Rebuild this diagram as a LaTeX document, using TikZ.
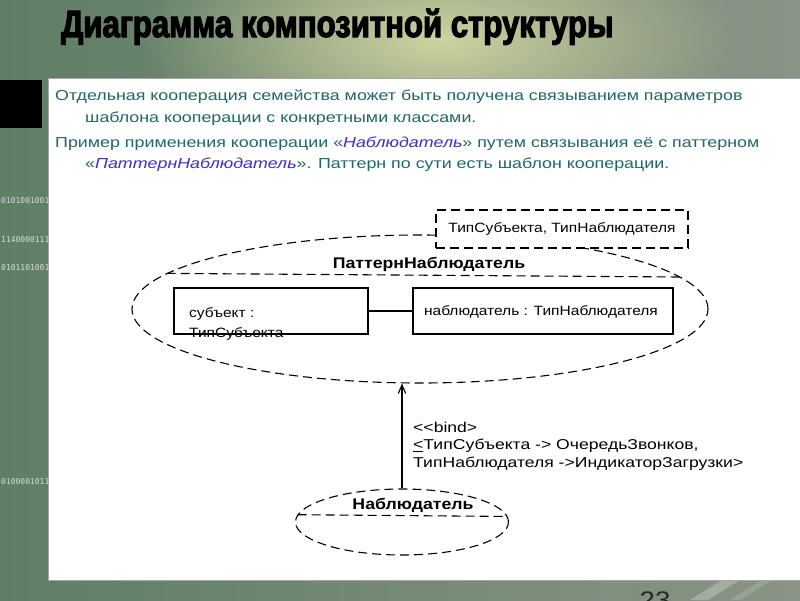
\documentclass[tikz,border=0pt]{standalone}
\usepackage{fontspec}
\setmainfont[FakeStretch=1.15]{Liberation Sans}
\newfontfamily\bodyfont[FakeStretch=1.23]{Liberation Sans}
\newfontfamily\titlefont[FakeStretch=0.82,FakeBold=3]{Liberation Sans}
\newfontfamily\binfont{DejaVu Sans Mono}
\usetikzlibrary{positioning,arrows.meta,shapes.geometric,fadings}
\definecolor{bgleft}{RGB}{96,126,102}
\definecolor{bgright}{RGB}{138,148,134}
\definecolor{bglight}{RGB}{206,212,160}
\definecolor{bodyteal}{RGB}{30,104,104}
\definecolor{nameblue}{RGB}{62,44,206}
\definecolor{binwhite}{RGB}{214,224,214}
\tikzfading[name=glow,inner color=transparent!0,outer color=transparent!100]

\begin{document}
\begin{tikzpicture}[x=1pt,y=-1pt,>={Straight Barb[length=3mm,width=2.6mm]},
  dsh/.style={dash pattern=on 9pt off 5pt,line width=1.1pt},
  body/.style={anchor=base west,inner sep=0pt,text=bodyteal,font=\bodyfont\fontsize{14.5}{17}\selectfont},
  lbl/.style={inner sep=0pt,font=\fontsize{13.5}{19.5}\selectfont},
  pname/.style={anchor=base,inner sep=0pt,font=\bfseries\fontsize{15.4}{18}\selectfont},
  part/.style={draw,line width=1.1pt,minimum height=46pt,inner sep=0pt},
  bits/.style={anchor=base west,inner sep=0pt,text=binwhite,font=\binfont\fontsize{8}{8}\selectfont}]
\useasboundingbox (0,0) rectangle (800,600);
\clip (0,0) rectangle (800,600);
% background of the slide
\shade[left color=bgleft,right color=bgright] (0,0) rectangle (800,600);
\fill[bglight,path fading=glow] (440,40) ellipse [x radius=300pt,y radius=120pt];
\fill[white,opacity=.25] (690,600) -- (722,580) -- (740,580) -- (708,600) -- cycle;
\fill[white,opacity=.15] (730,600) -- (762,580) -- (772,580) -- (740,600) -- cycle;
\node[bits] (b1) at (1,203) {0101001001};
\node[bits] (b2) at (1,242) {1140000111};
\node[bits] (b3) at (1,270) {0101101001};
\node[bits] (b4) at (1,484) {0100001011};
\fill[black] (0,80) rectangle (42,128);
\node[anchor=base,font=\fontsize{24}{24}\selectfont,text=black!85] (pg) at (655,608) {23};
\draw[gray!70,line width=.8pt,fill=white] (48,78) rectangle (812,580);
\node[anchor=base west,inner sep=0pt,font=\titlefont\bfseries\fontsize{38}{38}\selectfont] (title) at (61,37) {Диаграмма композитной структуры};
% text
\node[body] (t1) at (55,100) {Отдельная кооперация семейства может быть получена связыванием параметров};
\node[body] (t2) at (85,122) {шаблона кооперации с конкретными классами.};
\node[body] (t3) at (55,147) {Пример применения кооперации «\textcolor{nameblue}{\itshape Наблюдатель}» путем связывания её с паттерном};
\node[body] (t4) at (85,168) {«\textcolor{nameblue}{\itshape ПаттернНаблюдатель}». Паттерн по сути есть шаблон кооперации.};
% collaboration
\node[dsh,draw,ellipse,minimum width=576pt,minimum height=148pt,inner sep=0pt] (patt) at (420,309) {};
\draw[dsh] (patt.172.4) -- (patt.7.6);
\node[pname] (pattname) at (429,268) {ПаттернНаблюдатель};
\node[dsh,draw,fill=white,minimum width=252pt,minimum height=38pt,inner sep=0pt] (tpl) at (562,229) {};
\node[lbl] (tpltxt) at (tpl) {ТипСубъекта, ТипНаблюдателя};
\node[lbl,anchor=base west,align=left] (subjtxt) at (189,337) {субъект :\\ТипСубъекта};
\node[part,minimum width=194pt] (subj) at (271,311) {};
\node[part,minimum width=260pt] (obs) at (543,311) {};
\node[lbl,anchor=base] (obstxt) at (541,315) {наблюдатель : ТипНаблюдателя};
\draw[line width=1.3pt] (subj) -- (obs);
\node[dsh,draw,ellipse,minimum width=213pt,minimum height=66pt,inner sep=0pt] (user) at (402,522) {};
\draw[dsh] (user.176.7) -- (user.3.3);
\node[pname] (username) at (413,509) {Наблюдатель};
\draw[->,line width=1.1pt] (user.north) -- (user.north |- patt.south);
\node[lbl,anchor=base west,align=left,font=\bodyfont\fontsize{14.3}{17.5}\selectfont] (bind) at (413,467)
  {{<}{<}bind>\\\underline{<}ТипСубъекта -> ОчередьЗвонков,\\ТипНаблюдателя ->ИндикаторЗагрузки>};
\end{tikzpicture}
\end{document}
